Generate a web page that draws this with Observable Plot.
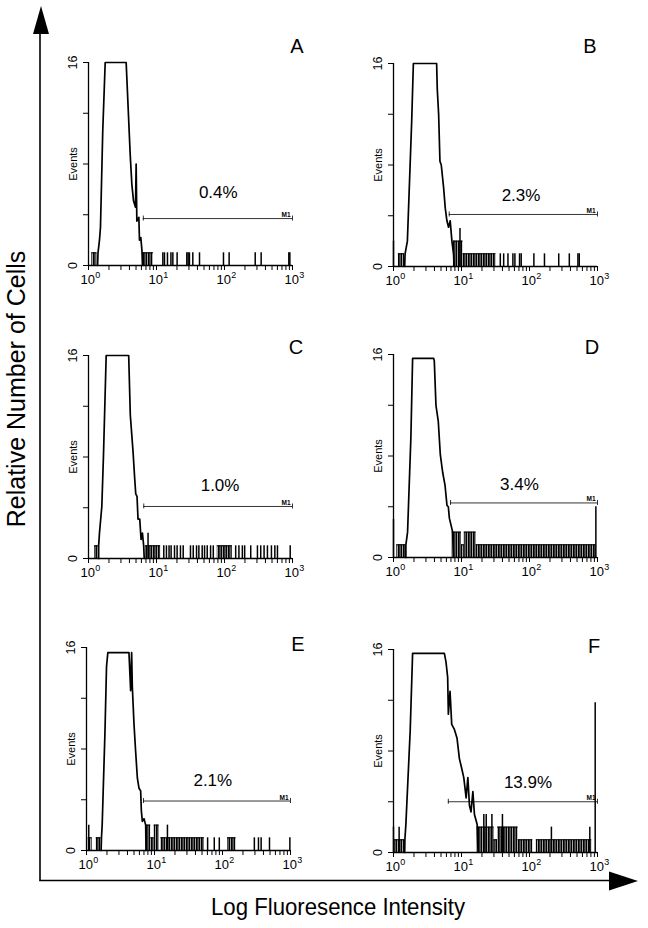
<!DOCTYPE html>
<html><head><meta charset="utf-8">
<script src="https://cdn.jsdelivr.net/npm/d3@7"></script>
<script src="https://cdn.jsdelivr.net/npm/@observablehq/plot@0.6"></script>
<style>
body{margin:0;background:#fff;}
#fig{position:relative;width:648px;height:928px;overflow:hidden;background:#fff;font-family:"Liberation Sans",Arial,Helvetica,sans-serif;}
.panel{position:absolute;}
</style></head><body><div id="fig"></div>
<script>
// ---------- data ----------
const panelLetters = ["A","B","C","D","E","F"];
const percentLabels = ["0.4%","2.3%","1.0%","3.4%","2.1%","13.9%"];
const percentX = [81, 75, 86, 71, 72, 95];        // fluorescence position of the % label
const percentY = [5.3, 5.2, 5.3, 5.3, 5.1, 5.1];  // events
const gateStart = [6.4, 6.6, 6.5, 6.9, 6.9, 6.4]; // M1 marker start
const gateEnd = 1000;
const gateLevel = [3.7, 4.1, 4.1, 4.3, 3.9, 4.0];
const markerLabel = "M1";
const yTickValues = [0, 4, 8, 12, 16];
const yTickLabels = [0, 16];
const xMajorTicks = [1, 10, 100, 1000];
const xTickBase = "10";
const xTickExponents = ["0", "1", "2", "3"];
const yLabel = "Events";
const xTitle = "Log Fluoresence Intensity";
const yTitle = "Relative Number of Cells";

// main peak outline: [intensity, events]
const peakA = [[1.36,0],[1.38,1],[1.45,2],[1.50,3],[1.62,10.6],[1.76,16],[3.58,16],[4.10,8.8],[4.34,6.4],[4.59,5.1],[4.91,4.6],[5.02,8.0],[5.14,3.5],[5.50,3.8],[5.62,2.0],[5.88,2.2],[6.15,1],[6.3,0]];
const peakB = [[1.46,0],[1.48,1],[1.60,2],[1.85,11.4],[1.96,16],[4.31,16],[4.40,14],[4.61,12],[4.82,8.3],[5.04,8.0],[5.46,6.2],[5.77,4.6],[6.10,3.6],[6.45,3.1],[6.82,3.6],[7.23,2.0],[7.64,1],[7.8,0]];
const peakC = [[1.41,0],[1.41,1],[1.45,2],[1.57,4.1],[1.66,8.1],[1.82,16],[3.90,16],[4.12,11.3],[4.52,8.4],[4.78,6.3],[4.95,5.1],[5.17,4.9],[5.35,3.1],[5.67,3.1],[5.93,1.5],[6.21,2],[6.48,1],[6.6,0]];
const peakD = [[1.52,0],[1.52,1],[1.61,2],[1.80,9.4],[1.91,15.7],[3.89,15.7],[3.98,15.5],[4.21,12],[4.56,10.7],[4.88,8.1],[5.29,6.7],[5.72,5.7],[6.12,4.1],[6.40,4.0],[6.63,3.1],[7.42,2],[7.6,0]];
const peakE = [[1.64,0],[1.66,1],[1.70,2],[1.87,9.4],[1.97,14.5],[2.06,15.6],[4.21,15.6],[4.46,12.6],[4.61,15.6],[4.72,12.9],[4.99,10],[5.28,7.8],[5.60,5.7],[5.92,4.9],[6.26,4.7],[6.41,3.1],[6.63,2.3],[7.02,2.5],[7.42,2],[7.5,0]];
const peakF = [[1.46,0],[1.47,1],[1.52,2.2],[1.76,9.6],[1.91,15.7],[5.6,15.7],[5.92,15],[6.26,13.8],[6.41,10.9],[6.78,12.7],[7.18,10.1],[7.86,9.7],[8.60,9.0],[9.31,7.4],[10.1,6.6],[10.8,5.9],[11.7,4.3],[12.4,5.9],[13.1,3.7],[13.8,3.2],[14.7,4.8],[15.5,3.0],[17.0,2.2],[17.5,0]];

// dense runs of low counts: [from, to, events]
const bandsA = [[1.12,1.33,1],[6.15,9.0,1]];
const bandsB = [[1.18,1.45,1],[7.6,10.5,2],[10.5,32,1]];
const bandsC = [[1.23,1.40,1],[6.87,11.5,1],[78.3,130,1]];
const bandsD = [[1.12,1.50,1],[7.3,10.0,2],[10.0,11.0,1],[11.0,16.4,2],[16.4,960,1]];
const bandsE = [[1.06,1.21,1],[1.39,1.64,1],[7.42,8.8,2],[8.8,9.9,1],[9.9,11.7,2],[12.4,54,1],[119,158,1]];
const bandsF = [[1.0,1.45,1],[17,30,2],[30,34,1],[34,68,2],[68,112,1],[126,820,1]];

// isolated channels: [intensity, events]
const spikesA = [[12.4,1],[13.1,1],[14.5,1],[16.3,1],[17.4,1],[20.1,1],[27.9,1],[29.2,1],[30.5,1],[34.2,1],[42.9,1],[96.6,1],[117,1],[283,1],[346,1],[883,1],[914,1]];
const spikesB = [[1.0,2],[9.5,3],[37.2,1],[41.7,1],[48.2,1],[57,1],[61,1],[71.4,1],[75.5,1],[116,1],[166,1],[269,1],[385,1],[515,1],[539,1]];
const spikesC = [[7.51,2],[12.8,1],[14.0,1],[15.3,1],[16.4,1],[18.4,1],[20.1,1],[22.5,1],[24.7,1],[31.6,1],[34.7,1],[38.8,1],[42.0,1],[47.0,1],[50.9,1],[55.7,1],[62.4,1],[68.4,1],[146,1],[163,1],[183,1],[198,1],[243,1],[305,1],[341,1],[382,1],[428,1],[490,1],[550,1],[601,1],[925,1]];
const spikesD = [[1.0,3],[946,4]];
const spikesE = [[1.08,2],[15.5,2],[60.4,1],[75.7,1],[89.7,1],[294,1],[338,1],[370,1],[491,1],[979,1]];
const spikesF = [[1.0,2],[1.21,2],[21.3,3],[23.1,3],[28,3],[40,3],[210,2],[771,2],[925,11.8]];

// ---------- layout ----------
const peaks = [peakA, peakB, peakC, peakD, peakE, peakF];
const bands = [bandsA, bandsB, bandsC, bandsD, bandsE, bandsF];
const spikes = [spikesA, spikesB, spikesC, spikesD, spikesE, spikesF];
const frameLeft = [88, 393, 88, 393, 86, 393];
const frameTop = [62, 63, 355, 354, 647, 649];
const letterDx = [4.5, -7.5, 3.5, -5.5, 7.5, -3.5];
const letterDy = [-10, -11, -2, -1, 3, 3];
const M = {left: 50, right: 20, top: 32, bottom: 26};
const FW = 204, FH = 203;
const FONT = '"Liberation Sans", Arial, Helvetica, sans-serif';

const fig = document.getElementById("fig");
fig.insertAdjacentHTML("beforeend", `<svg width="648" height="928" style="position:absolute;left:0;top:0">
<line x1="40" y1="880.5" x2="40" y2="30" stroke="black" stroke-width="1.6"/>
<polygon points="41,6 33,34 49,34" fill="black"/>
<line x1="39.2" y1="880.5" x2="612" y2="880.5" stroke="black" stroke-width="1.6"/>
<polygon points="638,881 609,871.5 609,890.5" fill="black"/>
<text transform="translate(25,389) rotate(-90)" text-anchor="middle" font-size="25" font-family='${FONT}'>${yTitle}</text>
<text x="338" y="915" text-anchor="middle" font-size="24" textLength="254" lengthAdjust="spacingAndGlyphs" font-family='${FONT}'>${xTitle}</text>
</svg>`);

const minorTicks = xMajorTicks.slice(0, -1).flatMap(m => d3.range(1, 10).map(k => m * k)).concat([xMajorTicks[xMajorTicks.length - 1]]);

for (let i = 0; i < 6; i++) {
  const pct = [{x: percentX[i], y: percentY[i], label: percentLabels[i]}];
  const gate = [{x1: gateStart[i], x2: gateEnd, y: gateLevel[i]}];
  const caps = [{x: gateStart[i], y: gateLevel[i]}, {x: gateEnd, y: gateLevel[i]}];
  const patId = "dense" + i;
  const svg = Plot.plot({
    width: FW + M.left + M.right,
    height: FH + M.top + M.bottom,
    marginLeft: M.left, marginRight: M.right, marginTop: M.top, marginBottom: M.bottom,
    style: {fontFamily: FONT, background: "transparent", overflow: "visible", color: "black"},
    x: {type: "log", domain: [1, 1000], ticks: minorTicks, tickFormat: () => "", tickSize: 5, label: null},
    y: {domain: [0, 16], ticks: yTickValues, tickFormat: () => "", tickSize: 5, label: null},
    marks: [
      Plot.ruleY([0], {strokeWidth: 1.3}),
      Plot.ruleX([1], {strokeWidth: 1.3}),
      Plot.rect(bands[i], {x1: d => d[0], x2: d => d[1], y1: () => 0, y2: d => d[2], fill: `url(#${patId})`}),
      Plot.ruleY(bands[i], {x1: d => d[0], x2: d => d[1], y: d => d[2], strokeWidth: 1.1}),
      Plot.ruleX(spikes[i], {x: d => d[0], y1: () => 0, y2: d => d[1], strokeWidth: 1.5}),
      Plot.line(peaks[i], {x: d => d[0], y: d => d[1], strokeWidth: 1.7}),
      Plot.ruleY(gate, {x1: "x1", x2: "x2", y: "y", strokeWidth: 0.8}),
      Plot.ruleX(caps, {x: "x", y1: "y", y2: "y", insetTop: -2.5, insetBottom: -2.5, strokeWidth: 0.8}),
      Plot.text(gate, {x: "x2", y: "y", text: () => markerLabel, textAnchor: "end", dx: -2, dy: -1.5, lineAnchor: "bottom", fontSize: 6.5, fontWeight: "bold"}),
      Plot.text(pct, {x: "x", y: "y", text: "label", textAnchor: "middle", lineAnchor: "bottom", fontSize: 17}),
      Plot.text(xMajorTicks, {x: d => d, frameAnchor: "bottom", text: () => xTickBase, textAnchor: "end", dx: 6.5, dy: 18, lineAnchor: "bottom", fontSize: 13}),
      Plot.text(xMajorTicks, {x: d => d, frameAnchor: "bottom", text: (d, j) => xTickExponents[j], textAnchor: "start", dx: 6.8, dy: 12, lineAnchor: "bottom", fontSize: 9}),
      Plot.text(yTickLabels, {y: d => d, frameAnchor: "left", text: d => String(d), rotate: -90, textAnchor: "middle", lineAnchor: "middle", dx: -15.5, fontSize: 12.5}),
      Plot.text([yLabel], {frameAnchor: "left", text: d => d, rotate: -90, textAnchor: "middle", lineAnchor: "middle", dx: -15, fontSize: 11}),
      Plot.text([panelLetters[i]], {frameAnchor: "top-right", text: d => d, textAnchor: "middle", lineAnchor: "bottom", dx: letterDx[i], dy: letterDy[i], fontSize: 20})
    ]
  });
  // vertical-stripe texture standing in for densely packed single-event channels
  const defs = d3.select(svg).insert("defs", ":first-child");
  const pat = defs.append("pattern").attr("id", patId).attr("patternUnits", "userSpaceOnUse").attr("width", 2.5).attr("height", 20);
  pat.append("rect").attr("x", 0).attr("y", 0).attr("width", 1.9).attr("height", 20).attr("fill", "black");
  const wrap = document.createElement("div");
  wrap.className = "panel";
  wrap.style.left = (frameLeft[i] - M.left) + "px";
  wrap.style.top = (frameTop[i] - M.top) + "px";
  wrap.appendChild(svg);
  fig.appendChild(wrap);
}
</script></body></html>
